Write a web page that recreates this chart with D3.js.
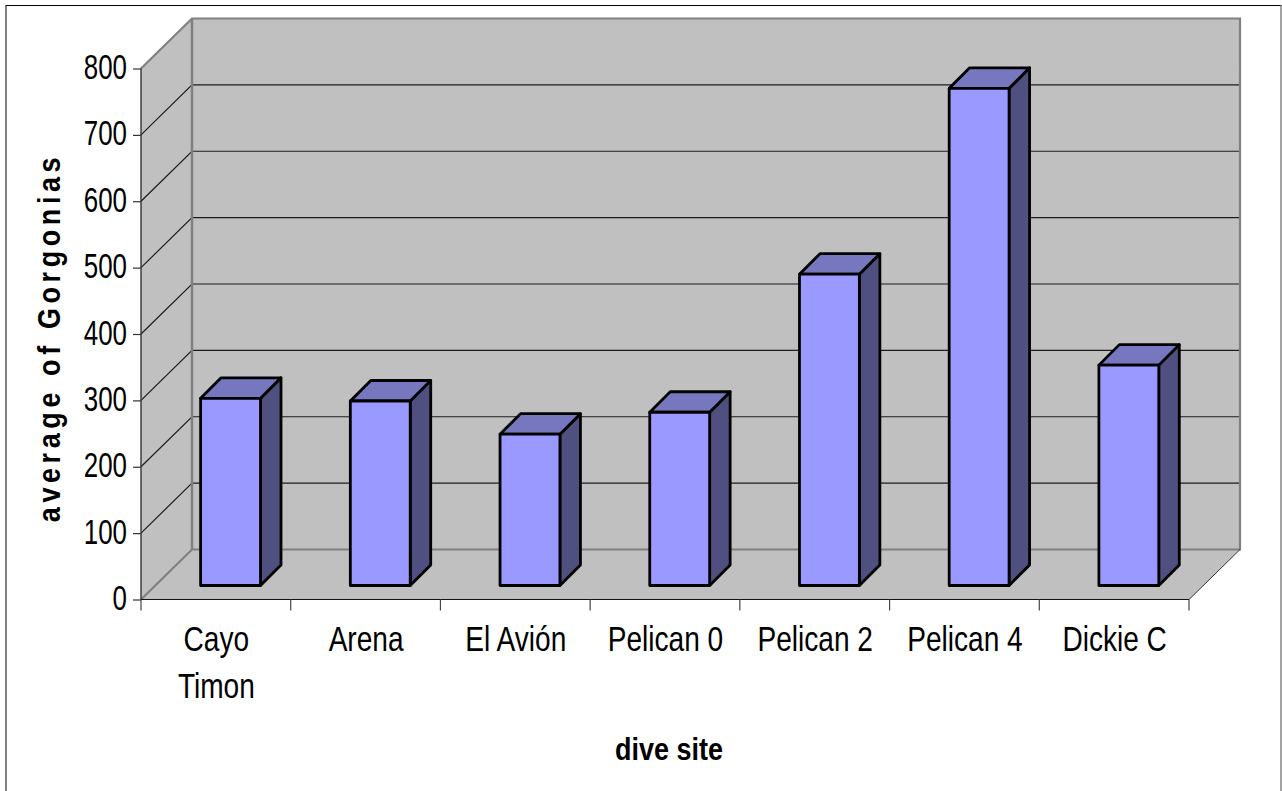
<!DOCTYPE html>
<html><head><meta charset="utf-8">
<script src="https://cdn.jsdelivr.net/npm/d3@7"></script>
<style>html,body{margin:0;padding:0;background:#fff}svg{display:block}text{font-family:"Liberation Sans",Arial,sans-serif;fill:#000}</style>
</head><body><div id="chart"></div>
<script>
const categories=["Cayo Timon","Arena","El Avión","Pelican 0","Pelican 2","Pelican 4","Dickie C"];
const labelLines=[["Cayo","Timon"],["Arena"],["El Avión"],["Pelican 0"],["Pelican 2"],["Pelican 4"],["Dickie C"]];
const values=[282,278,228,261,469,749,332];
const yTicks=[0,100,200,300,400,500,600,700,800];
const yTitle="average of Gorgonias", xTitle="dive site";

const W=1282,H=791;
const svg=d3.select("#chart").append("svg").attr("width",W).attr("height",H);
const x=d3.scaleBand().domain(categories).range([141,1189]).paddingInner(0.6).paddingOuter(0.3);
const xEdge=d3.scaleBand().domain(categories).range([141,1189]);
const y=d3.scaleLinear().domain([0,800]).range([599.5,68.5]);
const depth={dx:51,dy:-50}, barOff={dx:14.7,dy:-14}, barDepth={dx:20.5,dy:-20.5};
const L=141,R=1189;
const poly=p=>p.map(a=>a.join(",")).join(" ");

svg.append("rect").attr("x",6).attr("y",5.5).attr("width",1275).attr("height",800).attr("fill","#fff").attr("stroke","#000").attr("stroke-width",1);
svg.append("line").attr("x1",1281).attr("x2",1281).attr("y1",5.5).attr("y2",791).attr("stroke","#c8c8c8").attr("stroke-width",1);

const yT=y(800),y0=y(0);
svg.append("polygon").attr("points",poly([[L,yT],[L+depth.dx,yT+depth.dy],[L+depth.dx,y0+depth.dy],[L,y0]])).attr("fill","#c0c0c0");
svg.append("polygon").attr("points",poly([[L+depth.dx,yT+depth.dy],[R+depth.dx,yT+depth.dy],[R+depth.dx,y0+depth.dy],[L+depth.dx,y0+depth.dy]])).attr("fill","#c0c0c0");
svg.append("polygon").attr("points",poly([[L,y0],[L+depth.dx,y0+depth.dy],[R+depth.dx,y0+depth.dy],[R,y0]])).attr("fill","#c0c0c0");
yTicks.filter(t=>t>0&&t<800).forEach(t=>{
  svg.append("polyline").attr("points",poly([[L,y(t)],[L+depth.dx,y(t)+depth.dy],[R+depth.dx,y(t)+depth.dy]])).attr("fill","none").attr("stroke","#1c1c1c").attr("stroke-width",1.2);
});
svg.append("polyline").attr("points",poly([[L,yT],[L+depth.dx,yT+depth.dy],[R+depth.dx,yT+depth.dy],[R+depth.dx,y0+depth.dy],[L+depth.dx,y0+depth.dy],[L,y0]])).attr("fill","none").attr("stroke","#808080").attr("stroke-width",2.2);
svg.append("line").attr("x1",L+depth.dx).attr("x2",L+depth.dx).attr("y1",yT+depth.dy).attr("y2",y0+depth.dy).attr("stroke","#808080").attr("stroke-width",2.5);
svg.append("line").attr("x1",R).attr("y1",y0).attr("x2",R+depth.dx).attr("y2",y0+depth.dy).attr("stroke","#333").attr("stroke-width",1);

const g=svg.append("g").attr("stroke","#000").attr("stroke-width",2.8).attr("stroke-linejoin","round");
categories.forEach((c,i)=>{
  const x0=x(c)+barOff.dx, x1=x0+x.bandwidth();
  const b=y(0)+barOff.dy, t=y(values[i])+barOff.dy;
  const d=barDepth;
  g.append("polygon").attr("points",poly([[x1,t],[x1+d.dx,t+d.dy],[x1+d.dx,b+d.dy],[x1,b]])).attr("fill","#4f4f80");
  g.append("polygon").attr("points",poly([[x0,t],[x0+d.dx,t+d.dy],[x1+d.dx,t+d.dy],[x1,t]])).attr("fill","#7777bf");
  g.append("rect").attr("x",x0).attr("y",t).attr("width",x.bandwidth()).attr("height",b-t).attr("fill","#9999ff");
});

const FS=36;
const yAxis=svg.append("g").attr("transform",`translate(${L},0)`).call(d3.axisLeft(y).tickValues(yTicks).tickSize(8).tickPadding(6));
yAxis.select(".domain").attr("stroke","#333").attr("stroke-width",1.4).attr("d",`M0,${yT}V${y0}`);
yAxis.selectAll(".tick line").attr("stroke","#333").attr("stroke-width",1.2);
yAxis.selectAll(".tick text").attr("font-size",FS).attr("font-family",null).attr("text-anchor","end").attr("dy",null)
  .attr("x",0).attr("y",0)
  .attr("transform",`translate(-14,10) scale(0.72,1)`);
const xAxisG=svg.append("g").attr("transform",`translate(0,${y0})`).call(d3.axisBottom(xEdge).tickValues([]).tickSize(0));
xAxisG.select(".domain").attr("stroke","#111").attr("stroke-width",1.2).attr("d",`M${L},0H${R}`);
[...categories.map(c=>xEdge(c)),R].forEach(px=>{
  xAxisG.append("line").attr("x1",px).attr("x2",px).attr("y1",0).attr("y2",11).attr("stroke","#444").attr("stroke-width",1.2);
});
categories.forEach((c,i)=>{
  labelLines[i].forEach((s,j)=>{
    svg.append("text").text(s).attr("font-size",FS).attr("text-anchor","middle")
      .attr("transform",`translate(${xEdge(c)+xEdge.bandwidth()/2+0.5},${651+47*j}) scale(0.78,1)`);
  });
});
svg.append("text").text(yTitle).attr("font-size",31).attr("font-weight","bold").attr("text-anchor","middle").attr("letter-spacing",5.3)
  .attr("transform","translate(60,337.5) rotate(-90) scale(0.87,1)");
svg.append("text").text(xTitle).attr("font-size",31).attr("font-weight","bold").attr("text-anchor","middle")
  .attr("transform",`translate(669,760) scale(0.87,1)`);
</script></body></html>
